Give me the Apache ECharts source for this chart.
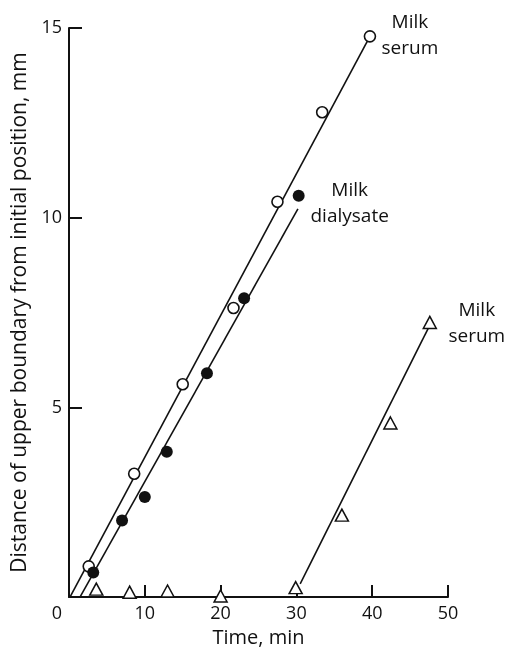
<!DOCTYPE html>
<html>
<head>
<meta charset="utf-8">
<script src="https://cdn.jsdelivr.net/npm/echarts@6/dist/echarts.min.js"></script>
<style>
  html, body { margin: 0; padding: 0; background: #fff; }
  #chart { width: 505px; height: 653px; }
</style>
</head>
<body>
<div id="chart"></div>
<script>
// Boundary movement: milk serum (open circles), milk dialysate (filled circles),
// and a second milk serum run (triangles) that only starts moving after ~30 min.
const xTicks = [0, 10, 20, 30, 40, 50];
const yTicks = [0, 5, 10, 15];

const serumTime = [2.6, 8.6, 15.0, 21.7, 27.5, 33.4, 39.7];
const serumDist = [0.81, 3.25, 5.61, 7.62, 10.42, 12.78, 14.78];

const dialysateTime = [3.2, 7.0, 10.0, 12.9, 18.2, 23.1, 30.3];
const dialysateDist = [0.65, 2.02, 2.64, 3.83, 5.90, 7.88, 10.58];

const serum2Time = [3.6, 8.0, 13.0, 20.0, 29.9, 36.0, 42.4, 47.6];
const serum2Dist = [0.21, 0.13, 0.16, 0.03, 0.25, 2.16, 4.59, 7.24];

// Fitted straight lines (start and end of each drawn line)
const serumFitTime = [0.13, 39.7];
const serumFitDist = [0, 14.78];
const dialysateFitTime = [1.45, 30.2];
const dialysateFitDist = [0, 10.23];
const serum2FitTime = [30.5, 47.9];
const serum2FitDist = [0.35, 7.29];

const serumLabel = 'Milk\nserum';
const dialysateLabel = 'Milk\ndialysate';

const FONT = '"Open Sans", "DejaVu Sans", sans-serif';
const INK = '#111';

const pairs = (xs, ys) => xs.map((x, i) => [x, ys[i]]);

function endLabel(text, count, offset) {
  return {
    show: true,
    position: 'inside',
    offset: offset,
    align: 'center',
    verticalAlign: 'middle',
    color: INK,
    fontFamily: FONT,
    fontSize: 19,
    lineHeight: 26,
    formatter: p => (p.dataIndex === count - 1 ? text : '')
  };
}

const fitLine = (xs, ys) => ({
  type: 'line',
  data: pairs(xs, ys),
  symbol: 'none',
  silent: true,
  z: 2,
  lineStyle: { color: INK, width: 1.6 }
});

const chart = echarts.init(document.getElementById('chart'), null, { renderer: 'canvas' });

chart.setOption({
  backgroundColor: '#fff',
  animation: false,
  grid: { left: 69, top: 28, width: 379, height: 575, containLabel: false },
  xAxis: {
    type: 'value',
    min: xTicks[0],
    max: xTicks[xTicks.length - 1],
    interval: xTicks[1] - xTicks[0],
    name: 'Time, min',
    nameLocation: 'middle',
    nameGap: 26,
    nameTextStyle: { fontFamily: FONT, fontSize: 20, color: INK },
    axisLine: { lineStyle: { color: INK, width: 2 } },
    axisTick: { inside: true, length: 12, lineStyle: { color: INK, width: 2 } },
    splitLine: { show: false },
    axisLabel: {
      margin: 8,
      fontFamily: FONT,
      fontSize: 18,
      color: INK,
      formatter: v => (v === 0 ? '{o|0}' : String(v)),
      rich: { o: { fontFamily: FONT, fontSize: 18, color: INK, padding: [0, 24, 0, 0] } }
    }
  },
  yAxis: {
    type: 'value',
    min: yTicks[0],
    max: yTicks[yTicks.length - 1],
    interval: yTicks[1] - yTicks[0],
    name: 'Distance of upper boundary from initial position, mm',
    nameLocation: 'middle',
    nameGap: 36,
    nameTextStyle: { fontFamily: FONT, fontSize: 21, color: INK },
    axisLine: { show: true, lineStyle: { color: INK, width: 2 } },
    axisTick: { show: true, inside: true, length: 13, lineStyle: { color: INK, width: 2 } },
    splitLine: { show: false },
    axisLabel: {
      margin: 7,
      fontFamily: FONT,
      fontSize: 18,
      color: INK,
      formatter: v => (v === 0 ? '' : String(v))
    }
  },
  series: [
    fitLine(serumFitTime, serumFitDist),
    fitLine(dialysateFitTime, dialysateFitDist),
    fitLine(serum2FitTime, serum2FitDist),
    {
      type: 'scatter',
      data: pairs(serumTime, serumDist),
      symbol: 'circle',
      symbolSize: 11,
      z: 3,
      itemStyle: { color: '#fff', borderColor: INK, borderWidth: 1.6, opacity: 1 },
      label: endLabel(serumLabel, serumTime.length, [40, -1])
    },
    {
      type: 'scatter',
      data: pairs(dialysateTime, dialysateDist),
      symbol: 'circle',
      symbolSize: 12,
      z: 3,
      itemStyle: { color: INK, borderColor: INK, borderWidth: 0, opacity: 1 },
      label: endLabel(dialysateLabel, dialysateTime.length, [51, 8])
    },
    {
      type: 'scatter',
      data: pairs(serum2Time, serum2Dist),
      symbol: 'triangle',
      symbolSize: [13, 12],
      z: 3,
      itemStyle: { color: '#fff', borderColor: INK, borderWidth: 1.5, opacity: 1 },
      label: endLabel(serumLabel, serum2Time.length, [47, 1])
    }
  ]
});
</script>
</body>
</html>
